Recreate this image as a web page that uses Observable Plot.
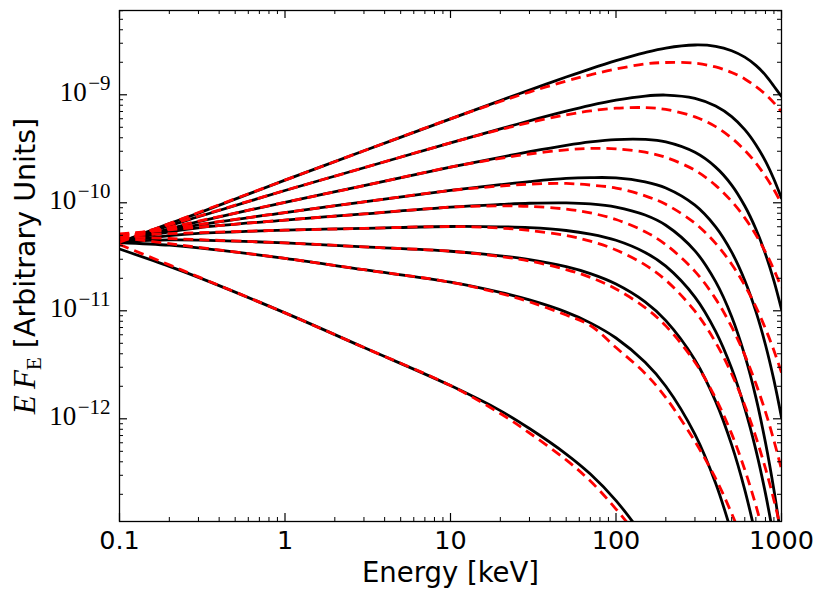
<!DOCTYPE html>
<html><head><meta charset="utf-8">
<script src="https://cdn.jsdelivr.net/npm/d3@7"></script>
<script src="https://cdn.jsdelivr.net/npm/@observablehq/plot@0.6"></script>
<style>html,body{margin:0;padding:0;background:#fff;} #chart svg{display:block}</style>
</head><body><div id="chart"></div>
<script>
// Energy grid (keV)
const energy = [0.1, 0.2, 0.3, 1, 3, 10, 20, 30, 50, 70, 100, 150, 200, 300, 400, 500, 600, 700, 800, 900, 1000];

// Solid black curves (E F_E, arbitrary units)
const black1 = [4.29e-11, 6.41e-11, 8.03e-11, 1.62e-10, 3.03e-10, 5.99e-10, 8.84e-10, 1.105e-9, 1.46e-9, 1.74e-9, 2.07e-9, 2.46e-9, 2.71e-9, 2.89e-9, 2.81e-9, 2.56e-9, 2.23e-9, 1.87e-9, 1.52e-9, 1.20e-9, 9.65e-10];
const black2 = [4.29e-11, 6.14e-11, 7.43e-11, 1.30e-10, 2.11e-10, 3.59e-10, 4.83e-10, 5.74e-10, 7.05e-10, 7.98e-10, 8.91e-10, 9.73e-10, 9.94e-10, 9.26e-10, 7.86e-10, 6.27e-10, 4.75e-10, 3.45e-10, 2.43e-10, 1.65e-10, 1.10e-10];
const black3 = [4.29e-11, 5.74e-11, 6.70e-11, 1.01e-10, 1.44e-10, 2.14e-10, 2.64e-10, 2.97e-10, 3.40e-10, 3.66e-10, 3.85e-10, 3.86e-10, 3.66e-10, 2.93e-10, 2.14e-10, 1.46e-10, 9.34e-11, 5.72e-11, 3.35e-11, 1.89e-11, 1.03e-11];
const black4 = [4.38e-11, 5.55e-11, 6.23e-11, 8.12e-11, 1.02e-10, 1.30e-10, 1.47e-10, 1.57e-10, 1.68e-10, 1.71e-10, 1.70e-10, 1.56e-10, 1.37e-10, 9.50e-11, 5.98e-11, 3.49e-11, 1.91e-11, 9.87e-12, 4.85e-12, 2.28e-12, 1.03e-12];
const black5 = [4.38e-11, 5.37e-11, 5.87e-11, 6.92e-11, 7.89e-11, 9.11e-11, 9.65e-11, 9.90e-11, 9.98e-11, 9.77e-11, 9.14e-11, 7.71e-11, 6.20e-11, 3.59e-11, 1.86e-11, 8.82e-12, 3.86e-12, 1.58e-12, 6.03e-13, 2.19e-13, 7.47e-14];
const black6 = [4.38e-11, 4.97e-11, 5.22e-11, 5.58e-11, 5.79e-11, 6.03e-11, 5.99e-11, 5.88e-11, 5.54e-11, 5.13e-11, 4.50e-11, 3.47e-11, 2.59e-11, 1.34e-11, 6.45e-12, 2.92e-12, 1.25e-12, 5.16e-13, 2.04e-13, 7.74e-14];
const black7 = [4.38e-11, 4.53e-11, 4.51e-11, 4.25e-11, 3.91e-11, 3.56e-11, 3.23e-11, 2.98e-11, 2.56e-11, 2.21e-11, 1.77e-11, 1.21e-11, 8.10e-12, 3.51e-12, 1.45e-12, 5.73e-13, 2.20e-13, 8.18e-14];
const black8 = [4.29e-11, 4.05e-11, 3.83e-11, 3.06e-11, 2.40e-11, 1.84e-11, 1.48e-11, 1.26e-11, 9.73e-12, 7.73e-12, 5.60e-12, 3.34e-12, 2.00e-12, 7.17e-13, 2.53e-13, 8.74e-14];
const black9 = [3.73e-11, 2.58e-11, 2.04e-11, 9.56e-12, 4.57e-12, 2.03e-12, 1.19e-12, 8.13e-13, 4.72e-13, 3.08e-13, 1.75e-13, 7.79e-14];

// Dashed red curves
const red1 = [4.31e-11, 6.42e-11, 8.12e-11, 1.62e-10, 3.03e-10, 5.99e-10, 8.67e-10, 1.06e-9, 1.34e-9, 1.53e-9, 1.73e-9, 1.93e-9, 1.99e-9, 1.96e-9, 1.81e-9, 1.61e-9, 1.40e-9, 1.19e-9, 1.01e-9, 8.41e-10, 6.96e-10];
const red2 = [4.56e-11, 6.26e-11, 7.51e-11, 1.30e-10, 2.11e-10, 3.59e-10, 4.76e-10, 5.53e-10, 6.52e-10, 7.09e-10, 7.51e-10, 7.61e-10, 7.32e-10, 6.24e-10, 5.07e-10, 3.97e-10, 3.06e-10, 2.34e-10, 1.76e-10, 1.32e-10, 9.83e-11];
const red3 = [4.69e-11, 5.91e-11, 6.77e-11, 1.01e-10, 1.44e-10, 2.14e-10, 2.58e-10, 2.83e-10, 3.09e-10, 3.19e-10, 3.16e-10, 2.94e-10, 2.63e-10, 2.00e-10, 1.45e-10, 1.03e-10, 7.26e-11, 5.05e-11, 3.50e-11, 2.40e-11, 1.64e-11];
const red4 = [4.98e-11, 5.77e-11, 6.30e-11, 8.12e-11, 1.02e-10, 1.30e-10, 1.43e-10, 1.49e-10, 1.51e-10, 1.46e-10, 1.37e-10, 1.16e-10, 9.67e-11, 6.46e-11, 4.21e-11, 2.70e-11, 1.72e-11, 1.09e-11, 6.83e-12, 4.29e-12, 2.68e-12];
const red5 = [5.14e-11, 5.62e-11, 5.93e-11, 6.92e-11, 7.89e-11, 9.11e-11, 9.36e-11, 9.26e-11, 8.74e-11, 8.06e-11, 7.00e-11, 5.40e-11, 4.10e-11, 2.32e-11, 1.29e-11, 7.09e-12, 3.89e-12, 2.12e-12, 1.16e-12, 6.28e-13, 3.41e-13];
const red6 = [5.00e-11, 5.18e-11, 5.28e-11, 5.58e-11, 5.79e-11, 6.03e-11, 5.83e-11, 5.55e-11, 4.97e-11, 4.41e-11, 3.66e-11, 2.66e-11, 1.92e-11, 9.91e-12, 5.09e-12, 2.60e-12, 1.33e-12, 6.80e-13, 3.47e-13, 1.77e-13, 8.97e-14];
const red7 = [4.85e-11, 4.67e-11, 4.56e-11, 4.25e-11, 3.91e-11, 3.56e-11, 3.18e-11, 2.89e-11, 2.41e-11, 2.04e-11, 1.59e-11, 1.07e-11, 7.25e-12, 3.34e-12, 1.55e-12, 7.25e-13, 3.38e-13, 1.58e-13, 7.42e-14];
const red8 = [4.78e-11, 4.18e-11, 3.87e-11, 3.06e-11, 2.40e-11, 1.84e-11, 1.45e-11, 1.21e-11, 9.14e-12, 7.31e-12, 4.57e-12, 2.63e-12, 1.57e-12, 6.16e-13, 2.80e-13, 1.33e-13, 6.71e-14];
const red9 = [4.11e-11, 2.66e-11, 2.06e-11, 9.56e-12, 4.57e-12, 2.03e-12, 1.12e-12, 7.39e-13, 4.16e-13, 2.65e-13, 1.46e-13, 6.78e-14];

// Axis ticks and labels
const xMajor = [0.1, 1, 10, 100, 1000];
const xTickLabels = ["0.1", "1", "10", "100", "1000"];
const yMajor = [1e-12, 1e-11, 1e-10, 1e-9];
const yTickExponents = ["\u221212", "\u221211", "\u221210", "\u22129"];
const xLabel = "Energy [keV]";
const yLabelUnits = " [Arbitrary Units]";

const xDomain = [0.1, 1000];
const yDomain = [1.12e-13, 6.03e-9];

const xMinor = [];
for (const d of [0.1, 1, 10, 100]) for (let k = 2; k <= 9; k++) xMinor.push(d * k);
const yMinor = [];
for (const d of [1e-13, 1e-12, 1e-11, 1e-10, 1e-9]) for (let k = 2; k <= 9; k++) {
  const v = d * k; if (v >= yDomain[0] && v <= yDomain[1]) yMinor.push(v);
}

const solid = [black1, black2, black3, black4, black5, black6, black7, black8, black9];
const dashed = [red1, red2, red3, red4, red5, red6, red7, red8, red9];
const toRows = (list) => list.flatMap((vals, i) => vals.map((F, j) => ({E: energy[j], F, curve: i})));

const W = 822, H = 600, mL = 119, mR = 41, mT = 10, mB = 79;
const innerW = W - mL - mR, innerH = H - mT - mB;
const MAJ = 8, MIN = 4;
const sans = "'DejaVu Sans', sans-serif";
const serif = "'Liberation Serif', 'DejaVu Serif', serif";

const svg = Plot.plot({
  width: W, height: H,
  marginLeft: mL, marginRight: mR, marginTop: mT, marginBottom: mB,
  style: {background: "#fff", overflow: "visible"},
  x: {type: "log", domain: xDomain, axis: null},
  y: {type: "log", domain: yDomain, axis: null},
  marks: [
    Plot.line(toRows(solid), {x: "E", y: "F", z: "curve", stroke: "#000", strokeWidth: 2.8, curve: "catmull-rom", clip: true}),
    Plot.line(toRows(dashed), {x: "E", y: "F", z: "curve", stroke: "#ff0000", strokeWidth: 2.8, strokeDasharray: "10,6", strokeLinecap: "butt", curve: "catmull-rom", clip: true}),
    // inward ticks on all four sides
    Plot.tickX(xMajor, {x: d => d, insetTop: innerH - MAJ, stroke: "#000", strokeWidth: 1.2}),
    Plot.tickX(xMajor, {x: d => d, insetBottom: innerH - MAJ, stroke: "#000", strokeWidth: 1.2}),
    Plot.tickX(xMinor, {x: d => d, insetTop: innerH - MIN, stroke: "#000", strokeWidth: 1}),
    Plot.tickX(xMinor, {x: d => d, insetBottom: innerH - MIN, stroke: "#000", strokeWidth: 1}),
    Plot.tickY(yMajor, {y: d => d, insetRight: innerW - MAJ, stroke: "#000", strokeWidth: 1.2}),
    Plot.tickY(yMajor, {y: d => d, insetLeft: innerW - MAJ, stroke: "#000", strokeWidth: 1.2}),
    Plot.tickY(yMinor, {y: d => d, insetRight: innerW - MIN, stroke: "#000", strokeWidth: 1}),
    Plot.tickY(yMinor, {y: d => d, insetLeft: innerW - MIN, stroke: "#000", strokeWidth: 1}),
    Plot.frame({stroke: "#000", strokeWidth: 1.3}),
    // tick labels
    Plot.text(xMajor, {x: d => d, frameAnchor: "bottom", text: (d, i) => xTickLabels[i], lineAnchor: "bottom", dy: 27.5, fontSize: 25.5, fontFamily: sans, fill: "#000"}),
    Plot.text(yMajor, {y: d => d, frameAnchor: "left", text: (d, i) => "10^" + yTickExponents[i], textAnchor: "end", lineAnchor: "bottom", dx: -9, dy: 6, fontSize: 27, fontFamily: serif, fill: "#000"}),
    // axis titles
    Plot.text([xLabel], {text: d => d, frameAnchor: "bottom", lineAnchor: "bottom", dy: 60.5, fontSize: 27.5, fontFamily: sans, fill: "#000"}),
    Plot.text(["YTITLE"], {text: d => d, frameAnchor: "left", rotate: -90, textAnchor: "middle", lineAnchor: "bottom", dx: -85, fontSize: 28.5, fontFamily: sans, fill: "#000"})
  ]
});

// rich text: superscripts for y tick labels and subscript in the y title
d3.select(svg).selectAll("text").each(function() {
  const t = this.textContent;
  const s = d3.select(this);
  if (t.startsWith("10^")) {
    const exp = t.slice(3);
    s.text(null);
    s.append("tspan").text("10");
    s.append("tspan").attr("font-size", 21).attr("dx", 1.5).attr("dy", -11).text(exp);
  } else if (t === "YTITLE") {
    s.text(null);
    s.append("tspan").attr("font-family", serif).attr("font-style", "italic").attr("font-size", 31).text("E");
    s.append("tspan").attr("font-family", serif).attr("font-size", 31).text("\u2009");
    s.append("tspan").attr("font-family", serif).attr("font-style", "italic").attr("font-size", 31).text("F");
    s.append("tspan").attr("font-family", serif).attr("font-size", 21).attr("dy", 6).text("E");
    s.append("tspan").attr("dy", -6).text(yLabelUnits);
  }
});

document.getElementById("chart").appendChild(svg);
</script>
</body></html>
